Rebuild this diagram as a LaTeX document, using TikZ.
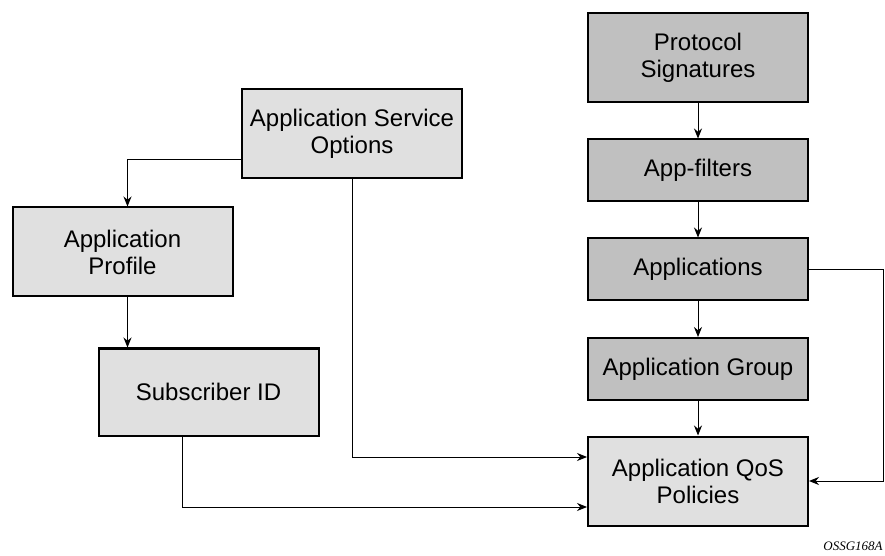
\documentclass[tikz,border=0pt]{standalone}
\usepackage{fontspec}
\setmainfont{Liberation Sans}
\newfontfamily\tagfont{Liberation Serif}
\usetikzlibrary{arrows.meta}

\definecolor{paleGrey}{HTML}{E0E0E0}
\definecolor{midGrey}{HTML}{C0C0C0}

\tikzstyle{palebox} = [draw=black, fill=paleGrey, line width=1pt,
    rectangle, minimum width=110pt, align=center,
    font=\fontsize{12}{13.5}\selectfont, inner sep=0pt]
\tikzstyle{midbox} = [palebox, fill=midGrey]
\tikzstyle{link} = [line width=0.5pt, -{Stealth[length=5pt,width=4pt]}]

\begin{document}
\begin{tikzpicture}[x=0.5pt, y=-0.5pt]
\useasboundingbox (0,0) rectangle (885,556);

% left side
\node [palebox, minimum height=44.5pt] (service) at (352,134) {Application Service\\Options};
\node [palebox, minimum height=44.5pt] (profile) at (122.5,252) {Application\\Profile};
\node [palebox, minimum height=43.5pt] (subscriber) at (208.5,392) {Subscriber ID};

% right column
\node [midbox, minimum height=44.5pt] (signatures) at (698,58) {Protocol\\Signatures};
\node [midbox, minimum height=31pt] (filters) at (698,170.5) {App-filters};
\node [midbox, minimum height=31pt] (apps) at (698,269.5) {Applications};
\node [midbox, minimum height=31pt] (group) at (698,369) {Application Group};
\node [palebox, minimum height=44.5pt] (qos) at (698,481) {Application QoS\\Policies};

\node [font=\tagfont\itshape\fontsize{6.5}{7}\selectfont] (tag) at (853,546) {OSSG168A};

% connectors
\draw [link] ([yshift=-13pt]service.west) -| ([xshift=2.5pt]profile.north);
\draw [link] ([xshift=2.5pt]profile.south) -- ([xshift=2.5pt]profile.south |- subscriber.north);
\draw [link] (service.south) |- ([yshift=12pt]qos.west);
\draw [link] ([xshift=-13pt]subscriber.south) |- ([yshift=-13pt]qos.west);
\draw [link] (signatures) -- (filters);
\draw [link] (filters) -- (apps);
\draw [link] (apps) -- (group);
\draw [link] (group) -- (qos);
\draw [link] (apps.east) -- ++(37pt,0) |- (qos.east);
\end{tikzpicture}
\end{document}
